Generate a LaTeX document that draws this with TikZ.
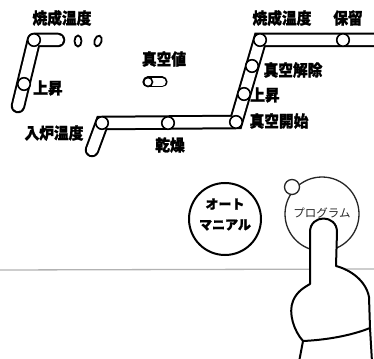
\documentclass[tikz,border=0pt]{standalone}
\usepackage{fontspec}
\usetikzlibrary{shapes.geometric}
\newfontfamily\jp{Noto Sans CJK JP}
\newfontfamily\jpheavy[FakeBold=1.5]{Noto Sans CJK JP}
\begin{document}
\begin{tikzpicture}[x=1pt,y=-1pt,
  bar/.style={line width=14.5pt, line cap=round, black},
  barin/.style={line width=10.5pt, line cap=round, white},
  stopmark/.style={circle, draw, line width=1.6pt, minimum size=12.5pt, inner sep=0pt, fill=white},
  lbl/.style={font=\jpheavy\bfseries\fontsize{16}{16}\selectfont, inner sep=0pt, xscale=0.92},
  btnlbl/.style={font=\jpheavy\bfseries\fontsize{13}{13}\selectfont, inner sep=0pt},
  digit/.style={ellipse, draw, line width=1.8pt, minimum width=7pt, minimum height=11pt, inner sep=0pt},
  outline/.style={line width=2pt, line join=round},
]
\useasboundingbox (0,0) rectangle (374,358);
\clip (0,0) rectangle (374,358);

% ---- timeline points ----
\coordinate (ltop) at (34,40);
\coordinate (lend) at (58,40);
\coordinate (lbot) at (18,106);
\coordinate (rise) at (24,84);
\coordinate (inl) at (102,123);
\coordinate (inlbot) at (92,150);
\coordinate (dry) at (168,123);
\coordinate (vstart) at (236,122);
\coordinate (vrise) at (244,94);
\coordinate (vrel) at (252,66);
\coordinate (fire) at (260,40);
\coordinate (hold) at (343,40);
\coordinate (rend) at (390,40);
\coordinate (va) at (148,82);
\coordinate (vb) at (162,82);

% ---- tracks: black strokes, then white cores for a joined outline ----
\draw[bar] (ltop) -- (lend) (ltop) -- (lbot);
\draw[bar] (inlbot) -- (inl) -- (vstart) -- (fire) -- (rend);
\draw[line width=11pt, line cap=round] (va) -- (vb);
\draw[barin] (ltop) -- (lend) (ltop) -- (lbot);
\draw[barin] (inlbot) -- (inl) -- (vstart) -- (fire) -- (rend);
\draw[line width=7.6pt, line cap=round, white] (va) -- (vb);

% ---- lamps on the tracks ----
\foreach \p in {ltop, rise, inl, dry, vstart, vrise, vrel, fire, hold}
  \node[stopmark] (s-\p) at (\p) {};
\node[circle, draw, line width=1.6pt, minimum size=9pt, inner sep=0pt] (s-va) at (va) {};

% segment display digits
\node[digit] (d1) at (78,41) {};
\node[digit, rotate=-18] (d2) at (98,41) {};

% ---- labels ----
\node[lbl] (t1) at (62,18) {焼成温度};
\node[lbl] (t2) at (48,88) {上昇};
\node[lbl] (t3) at (164,59) {真空値};
\node[lbl] (t4) at (54,133) {入炉温度};
\node[lbl] (t5) at (170,145) {乾燥};
\node[lbl] (t6) at (282,18) {焼成温度};
\node[lbl] (t7) at (348,18) {保留};
\node[lbl] (t8) at (293,70) {真空解除};
\node[lbl] (t9) at (265,95) {上昇};
\node[lbl] (t10) at (279,121) {真空開始};

% ---- panel edge ----
\draw[gray!60, line width=1.3pt] (0,270) -- (374,269);

% ---- buttons ----
\node[circle, draw, line width=2pt, minimum size=72pt, inner sep=0pt] (auto) at (225,219) {};
\node[btnlbl] (auto1) at (225,204) {オート};
\node[btnlbl] (auto2) at (225,225) {マニアル};

\node[circle, draw=black!85, line width=1.3pt, minimum size=74pt, inner sep=0pt] (prog) at (322,214) {};
\node[font=\jp\fontsize{11.5}{11.5}\selectfont, inner sep=0pt, text=black!85] (progl) at (322,213) {プログラム};
\node[circle, draw=black!85, line width=1.3pt, fill=white, minimum size=15pt, inner sep=0pt] (lamp) at (292,187) {};

% ---- pressing hand ----
\filldraw[fill=white, outline]
  (299,362) -- (303,341)
  .. controls (294,331) and (288,313) .. (293,301)
  .. controls (297,291) and (305,287) .. (310,284)
  -- (310,232)
  .. controls (310,214) and (337,214) .. (337,232)
  -- (336,266)
  .. controls (351,270) and (366,281) .. (369,297)
  -- (370,328) -- (372,362) -- cycle;
\draw[outline] (303,341) .. controls (325,340) and (350,336) .. (370,328);
\end{tikzpicture}
\end{document}
